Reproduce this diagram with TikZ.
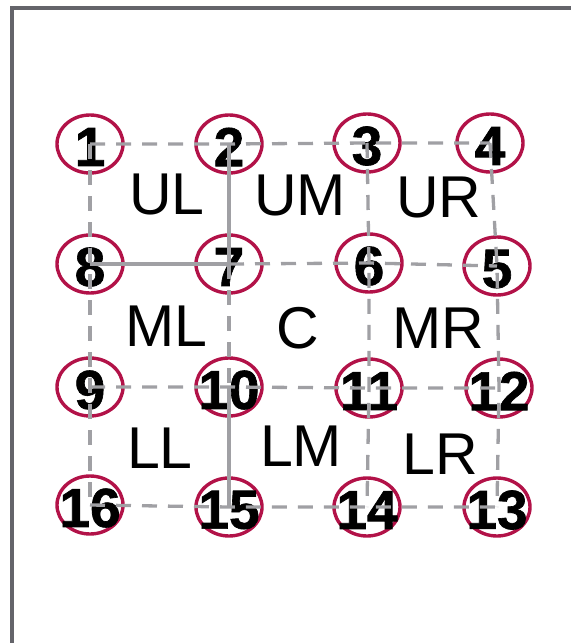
\documentclass[tikz,border=0pt]{standalone}
\usepackage{fontspec}
\setmainfont{Liberation Sans}
\newfontfamily\heavyfam[FakeBold=1.2]{Liberation Sans Bold}
\usetikzlibrary{shapes.geometric}
\definecolor{ringred}{RGB}{178,18,72}
\definecolor{linegray}{RGB}{160,160,164}
\definecolor{framegray}{RGB}{100,100,106}
\newcommand{\numfont}{\heavyfam\fontsize{55}{55}\selectfont}
\newcommand{\areafont}{\fontsize{59}{59}\selectfont}
\tikzset{
  spot/.style={ellipse, draw=ringred, line width=3.4pt, minimum width=66pt, minimum height=58pt, inner sep=0pt, label={[num]center:#1}},
  num/.style={font=\numfont, inner sep=0pt, yshift=-3pt},
  area/.style={font=\areafont, inner sep=0pt},
  link/.style={draw=linegray, line width=3.3pt, dash pattern=on 15pt off 11pt},
  bar/.style={draw=linegray, line width=3.3pt},
  rim/.style={draw=framegray, line width=3.4pt}
}
\begin{document}
\begin{tikzpicture}[x=1pt, y=-1pt]
            \useasboundingbox (0,0) rectangle (571,643);
            \coordinate (fa) at (12,643);
            \coordinate (fb) at (12,8);
            \coordinate (fc) at (571,8);
            \draw[rim] (fa) -- (fb) -- (fc);
            \node[spot=1] (v1) at (90,144) {};
            \node[spot=2] (v2) at (229,144) {};
            \node[spot=3] (v3) at (367,143) {};
            \node[spot=4] (v4) at (490,143) {};
            \node[spot=8] (v8) at (90,264) {};
            \node[spot=7] (v7) at (229,264) {};
            \node[spot=6] (v6) at (369,263) {};
            \node[spot=5] (v5) at (497,266) {};
            \node[spot=9] (v9) at (90,387) {};
            \node[spot=10] (v10) at (229,387) {};
            \node[spot=11] (v11) at (369,388) {};
            \node[spot=12] (v12) at (499,388) {};
            \node[spot=16] (v16) at (90,505) {};
            \node[spot=15] (v15) at (229,507) {};
            \node[spot=14] (v14) at (367,507) {};
            \node[spot=13] (v13) at (497,507) {};
            \node[area] (ul) at (167,194) {UL};
            \node[area] (um) at (300,195) {UM};
            \node[area] (ur) at (439,197) {UR};
            \node[area] (ml) at (166,326) {ML};
            \node[area] (c) at (298,328) {C};
            \node[area] (mr) at (438,328) {MR};
            \node[area] (ll) at (160,448) {LL};
            \node[area] (lm) at (301,446) {LM};
            \node[area] (lr) at (440,454) {LR};
            \draw[link] (v1.center) -- (v2.center) -- (v3.center) -- (v4.center);
            \draw[bar] (v8.center) -- (v7.center);
            \draw[link] (v7.center) -- (v6.center) -- (v5.center);
            \draw[link] (v9.center) -- (v10.center) -- (v11.center) -- (v12.center);
            \draw[link] (v16.center) -- (v15.center) -- (v14.center) -- (v13.center);
            \draw[link] (v1.center) -- (v8.center) -- (v9.center) -- (v16.center);
            \draw[bar] (v2.center) -- (v7.center);
            \draw[link] (v7.center) -- (v10.center);
            \draw[bar] (v10.center) -- (v15.center);
            \draw[link] (v3.center) -- (v6.center) -- (v11.center) -- (v14.center);
            \draw[link] (v4.center) -- (v5.center) -- (v12.center) -- (v13.center);
        \end{tikzpicture}
\end{document}
